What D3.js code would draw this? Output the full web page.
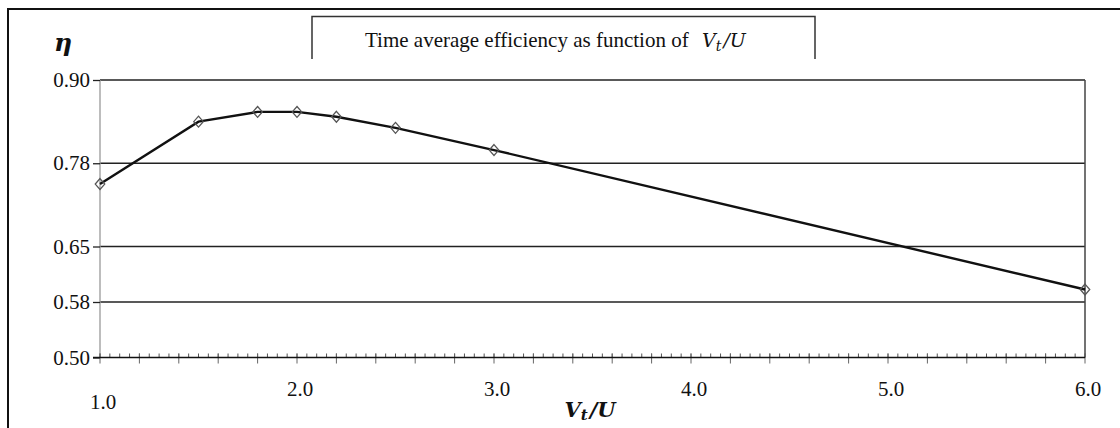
<!DOCTYPE html>
<html>
<head>
<meta charset="utf-8">
<script src="https://cdn.jsdelivr.net/npm/d3@7"></script>
<style>
    body { margin: 0; background: #fff; }
    svg { display: block; }
</style>
</head>
<body>
<div id="wrapper"></div>
<script>
// Data
const ratios = [1.0, 1.5, 1.8, 2.0, 2.2, 2.5, 3.0, 6.0]
const efficiency = [0.750, 0.840, 0.854, 0.854, 0.847, 0.831, 0.799, 0.598]
const yTickValues = [0.50, 0.58, 0.66, 0.78, 0.90]
const yTickLabels = ["0.50", "0.58", "0.65", "0.78", "0.90"]
const xTickValues = [1, 2, 3, 4, 5, 6]
const xTickLabels = ["1.0", "2.0", "3.0", "4.0", "5.0", "6.0"]

function drawChart() {
    const dimensions = {
        width: 1120,
        height: 428,
        margin: { top: 80, right: 35, bottom: 70.5, left: 100 },
    }
    dimensions.boundedWidth = dimensions.width - dimensions.margin.left - dimensions.margin.right
    dimensions.boundedHeight = dimensions.height - dimensions.margin.top - dimensions.margin.bottom

    const serif = "'Liberation Serif', 'Times New Roman', serif"
    const mathFont = "'DejaVu Serif', serif"

    const svg = d3.select("#wrapper")
        .append("svg")
        .attr("width", dimensions.width)
        .attr("height", dimensions.height)

    // outer frame (top and left edges visible)
    svg.append("path")
        .attr("d", `M8,${dimensions.height} V9 H${dimensions.width}`)
        .attr("fill", "none")
        .attr("stroke", "#111")
        .attr("stroke-width", 2)

    // title box, open at the bottom
    svg.append("path")
        .attr("d", "M312,59 V16.5 H815 V59")
        .attr("fill", "none")
        .attr("stroke", "#333")
        .attr("stroke-width", 1.5)

    svg.append("text")
        .attr("x", 365)
        .attr("y", 47)
        .style("font-family", serif)
        .style("font-size", "21px")
        .attr("fill", "#111")
        .text("Time average efficiency as function of")

    const titleMath = svg.append("text")
        .attr("x", 702)
        .attr("y", 47)
        .style("font-family", mathFont)
        .style("font-size", "19px")
        .style("font-style", "italic")
        .attr("fill", "#111")
    titleMath.append("tspan").text("V")
    titleMath.append("tspan").attr("font-size", "14px").attr("dy", 4).text("t")
    titleMath.append("tspan").attr("dy", -4).attr("dx", 2).text("/U")

    const bounds = svg.append("g")
        .attr("transform", `translate(${dimensions.margin.left}, ${dimensions.margin.top})`)

    const xScale = d3.scaleLinear()
        .domain([1, 6])
        .range([0, dimensions.boundedWidth])

    const yScale = d3.scaleLinear()
        .domain([0.5, 0.9])
        .range([dimensions.boundedHeight, 0])

    // gridlines
    bounds.append("g")
        .selectAll("line")
        .data(yTickValues.filter(d => d > 0.5))
        .join("line")
        .attr("x1", 0)
        .attr("x2", dimensions.boundedWidth)
        .attr("y1", d => yScale(d))
        .attr("y2", d => yScale(d))
        .attr("stroke", "#222")
        .attr("stroke-width", 1.3)

    // left and right edges of the plot
    bounds.append("line")
        .attr("x1", 0).attr("x2", 0)
        .attr("y1", 0).attr("y2", dimensions.boundedHeight)
        .attr("stroke", "#999")
        .attr("stroke-width", 1.3)
    bounds.append("line")
        .attr("x1", dimensions.boundedWidth).attr("x2", dimensions.boundedWidth)
        .attr("y1", 0).attr("y2", dimensions.boundedHeight)
        .attr("stroke", "#444")
        .attr("stroke-width", 1.5)

    // y axis
    const yAxisGenerator = d3.axisLeft(yScale)
        .tickValues(yTickValues)
        .tickFormat((d, i) => yTickLabels[i])
        .tickSize(7)
        .tickPadding(3)
    const yAxis = bounds.append("g").call(yAxisGenerator)
    yAxis.select(".domain").remove()
    yAxis.selectAll(".tick line").attr("stroke", "#222").attr("stroke-width", 1.3)
    yAxis.selectAll("text")
        .style("font-family", serif)
        .style("font-size", "21px")
        .attr("fill", "#111")

    // x axis: minor and major ticks, then labels
    const xAxis = bounds.append("g")
        .attr("transform", `translate(0, ${dimensions.boundedHeight})`)

    const minorTicks = d3.range(1, 6.001, 0.05)
    xAxis.append("g")
        .selectAll("line")
        .data(minorTicks)
        .join("line")
        .attr("x1", d => xScale(d))
        .attr("x2", d => xScale(d))
        .attr("y1", -4)
        .attr("y2", 0)
        .attr("stroke", "#555")
        .attr("stroke-width", 1)

    const majorTicks = d3.range(1, 6.001, 0.2)
    xAxis.append("g")
        .selectAll("line")
        .data(majorTicks)
        .join("line")
        .attr("x1", d => xScale(d))
        .attr("x2", d => xScale(d))
        .attr("y1", -4)
        .attr("y2", 6)
        .attr("stroke", "#666")
        .attr("stroke-width", 1)

    xAxis.append("line")
        .attr("x1", -7)
        .attr("x2", dimensions.boundedWidth)
        .attr("stroke", "#111")
        .attr("stroke-width", 1.5)

    xAxis.append("g")
        .selectAll("text")
        .data(xTickValues)
        .join("text")
        .attr("x", d => xScale(d) + 3)
        .attr("y", d => d === 1 ? 51 : 38)
        .attr("text-anchor", "middle")
        .style("font-family", serif)
        .style("font-size", "21px")
        .attr("fill", "#111")
        .text((d, i) => xTickLabels[i])

    // axis titles
    const xTitle = svg.append("text")
        .attr("x", 590)
        .attr("y", 417)
        .attr("text-anchor", "middle")
        .style("font-family", mathFont)
        .style("font-size", "21px")
        .style("font-weight", "bold")
        .style("font-style", "italic")
        .attr("fill", "#111")
    xTitle.append("tspan").text("V")
    xTitle.append("tspan").attr("font-size", "15px").attr("dy", 3).text("t")
    xTitle.append("tspan").attr("dy", -3).attr("dx", 2).text("/U")

    svg.append("text")
        .attr("x", 54)
        .attr("y", 51)
        .style("font-family", mathFont)
        .style("font-size", "25px")
        .style("font-weight", "bold")
        .style("font-style", "italic")
        .attr("fill", "#111")
        .text("η")

    // efficiency curve
    const lineGenerator = d3.line()
        .x((d, i) => xScale(ratios[i]))
        .y(d => yScale(d))

    bounds.append("path")
        .attr("d", lineGenerator(efficiency))
        .attr("fill", "none")
        .attr("stroke", "#111")
        .attr("stroke-width", 2.4)

    // hollow diamond markers
    const diamond = {
        draw(context, size) {
            const r = Math.sqrt(size) / 2
            context.moveTo(0, -r * 1.15)
            context.lineTo(r, 0)
            context.lineTo(0, r * 1.15)
            context.lineTo(-r, 0)
            context.closePath()
        }
    }
    bounds.append("g")
        .selectAll("path")
        .data(efficiency)
        .join("path")
        .attr("transform", (d, i) => `translate(${xScale(ratios[i])}, ${yScale(d)})`)
        .attr("d", d3.symbol().type(diamond).size(90))
        .attr("fill", "none")
        .attr("stroke", "#555")
        .attr("stroke-width", 1.3)
}

drawChart()
</script>
</body>
</html>
